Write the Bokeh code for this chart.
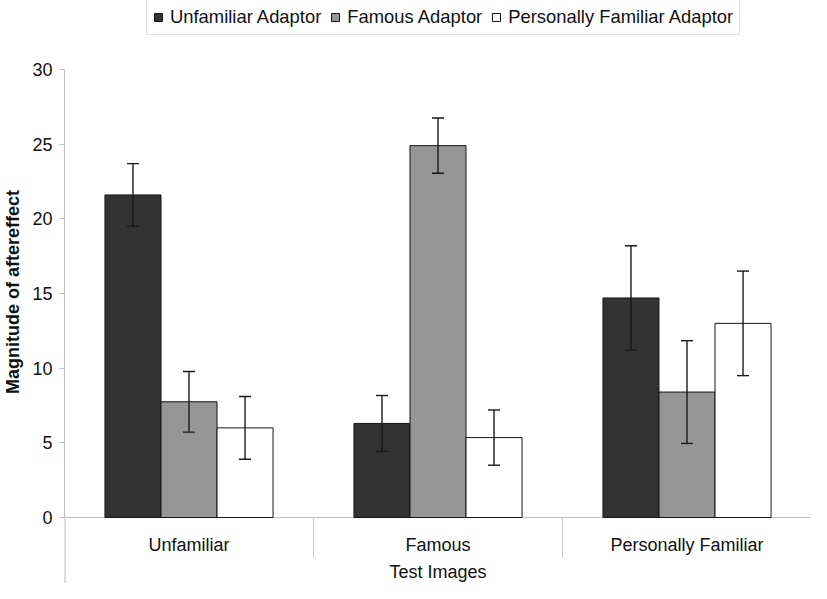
from bokeh.plotting import figure
from bokeh.models import (ColumnDataSource, FactorRange, Range1d, FixedTicker,
                          Whisker, TeeHead, Span)
from bokeh.transform import dodge
from bokeh.core.properties import value
from bokeh.embed import file_html
from bokeh.resources import INLINE

# ---------------- data ----------------
categories = ["Unfamiliar", "Famous", "Personally Familiar"]
series_names = ["Unfamiliar Adaptor", "Famous Adaptor", "Personally Familiar Adaptor"]
unfamiliar_adaptor = [21.6, 6.3, 14.7]
famous_adaptor = [7.75, 24.9, 8.4]
personal_adaptor = [6.0, 5.35, 13.0]
unfamiliar_err = [2.1, 1.87, 3.5]
famous_err = [2.03, 1.85, 3.44]
personal_err = [2.1, 1.85, 3.5]
yticks = [0, 5, 10, 15, 20, 25, 30]
x_title = "Test Images"
y_title = "Magnitude of aftereffect"

# ---------------- layout ----------------
W, H = 811, 583
PX = 448.0 / 30.0          # pixels per unit
zero_px = 517.0            # figure-pixel row of y = 0
y_end = zero_px / PX
y_start = -(H - zero_px) / PX
FONT = "Liberation Sans"

means = [unfamiliar_adaptor, famous_adaptor, personal_adaptor]
errs = [unfamiliar_err, famous_err, personal_err]
fills = ["#333333", "#969696", "#ffffff"]
offsets = [-0.225, 0.0, 0.225]
bar_w = 0.225

p = figure(width=W, height=H, output_backend="svg", toolbar_location=None,
           x_range=FactorRange(factors=categories, range_padding=0),
           y_range=Range1d(y_start, y_end),
           x_axis_location=None,
           min_border_left=64, min_border_right=0, min_border_top=0,
           min_border_bottom=0)
p.outline_line_color = None
p.xgrid.grid_line_color = None
p.ygrid.grid_line_color = None
p.background_fill_color = "white"
p.border_fill_color = "white"

# zero line
p.add_layout(Span(location=0, dimension="width", line_color="#c0c0c0",
                  line_width=1, level="underlay"))

# separators under the category axis and left line extension
n = len(categories)
sep_y = -(557 - zero_px) / PX
p.segment(x0=list(range(1, n + 1)), y0=[0] * n, x1=list(range(1, n + 1)),
          y1=[sep_y] * n, line_color="#c8c8c8", line_width=1)
p.segment(x0=[0], y0=[0], x1=[0], y1=[y_start], line_color="#c0c0c0",
          line_width=2)

for name, m, e, fc, off in zip(series_names, means, errs, fills, offsets):
    src = ColumnDataSource(dict(cat=categories, top=m,
                                upper=[a + b for a, b in zip(m, e)],
                                lower=[a - b for a, b in zip(m, e)]))
    p.vbar(x=dodge("cat", off, range=p.x_range), top="top", width=bar_w,
           source=src, fill_color=fc, line_color="#151515", line_width=1,
           legend_label=name)
    w = Whisker(source=src, base=dodge("cat", off, range=p.x_range),
                upper="upper", lower="lower", line_color="#1a1a1a",
                line_width=1.4, level="overlay",
                upper_head=TeeHead(size=12, line_color="#1a1a1a", line_width=1.4),
                lower_head=TeeHead(size=12, line_color="#1a1a1a", line_width=1.4))
    p.add_layout(w)

# category labels and x title
lab_y = -(544 - zero_px) / PX
p.text(x=categories, y=[lab_y] * n, text=categories, text_align="center",
       text_baseline="middle", text_font=value(FONT), text_font_size="18px",
       text_color="#111111")
title_y = -(571 - zero_px) / PX
p.text(x=[n / 2], y=[title_y], text=[x_title], text_align="center",
       text_baseline="middle", text_font=value(FONT), text_font_size="18px",
       text_color="#111111")

# y axis
ax = p.yaxis[0]
ax.ticker = FixedTicker(ticks=yticks)
ax.bounds = (0, 30)
ax.axis_line_color = "#bfbfbf"
ax.major_tick_line_color = "#bfbfbf"
ax.major_tick_out = 5
ax.major_tick_in = 0
ax.minor_tick_line_color = None
ax.major_label_text_font = FONT
ax.major_label_text_font_size = "18px"
ax.major_label_text_color = "#111111"
ax.major_label_standoff = 7
ax.axis_label = y_title
ax.axis_label_text_font = FONT
ax.axis_label_text_font_size = "18px"
ax.axis_label_text_font_style = "bold"
ax.axis_label_text_color = "#111111"
ax.axis_label_standoff = 6

# legend (box placed at reference pixel position: left 146, bottom 35)
lg = p.legend[0]
lg.location = (146 - 64, H - 35)
lg.orientation = "horizontal"
lg.margin = 0
lg.padding = 6
lg.spacing = 9
lg.glyph_width = 10
lg.glyph_height = 10
lg.label_standoff = 7
lg.label_text_font = FONT
lg.label_text_font_size = "18.4px"
lg.label_text_color = "#111111"
lg.border_line_color = "#c8c8c8"
lg.border_line_width = 1
lg.background_fill_color = "white"
lg.background_fill_alpha = 1.0

open("out.html", "w").write(file_html(p, INLINE))
